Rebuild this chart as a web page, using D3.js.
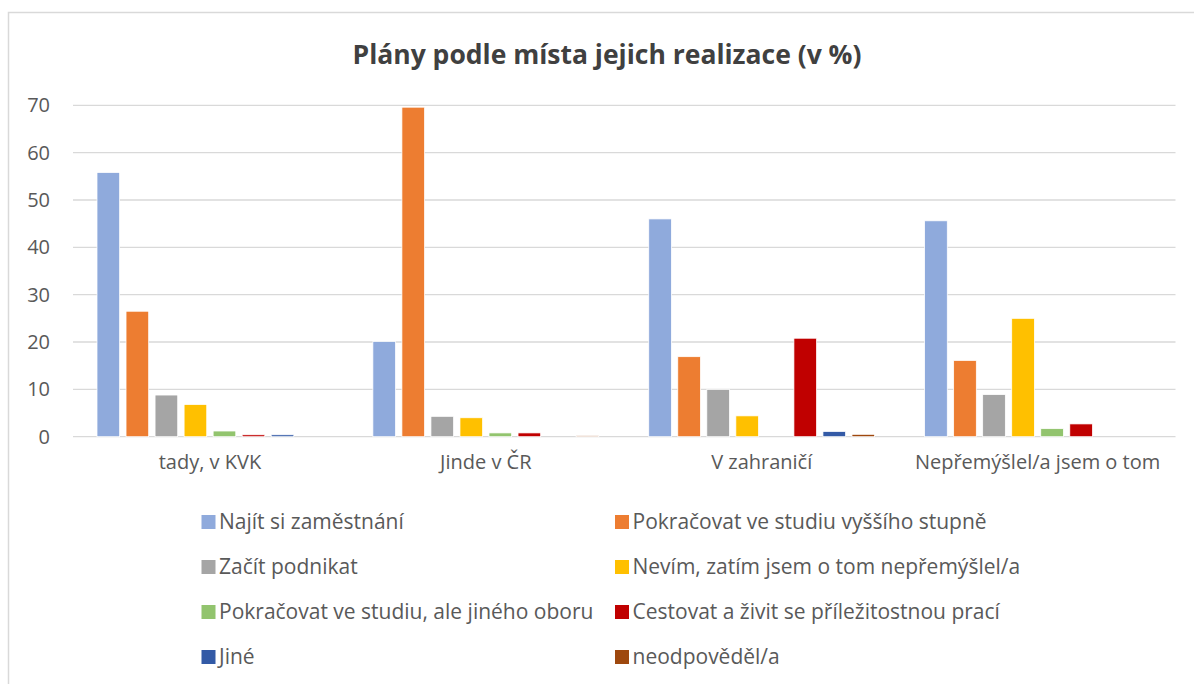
<!DOCTYPE html>
<html>
<head>
<meta charset="utf-8">
<script src="https://cdn.jsdelivr.net/npm/d3@7"></script>
<style>
  body { margin: 0; background: #fff; }
  text { font-family: "Open Sans", sans-serif; }
</style>
</head>
<body>
<div id="chart"></div>
<script>
// categories (places) and series (plans)
var places = ["tady, v KVK", "Jinde v ČR", "V zahraničí", "Nepřemýšlel/a jsem o tom"];
var plans = ["Najít si zaměstnání", "Pokračovat ve studiu vyššího stupně", "Začít podnikat",
  "Nevím, zatím jsem o tom nepřemýšlel/a", "Pokračovat ve studiu, ale jiného oboru",
  "Cestovat a živit se příležitostnou prací", "Jiné", "neodpověděl/a"];
var colors = ["#8FAADC", "#ED7D31", "#A5A5A5", "#FFC000", "#92C46E", "#C00000", "#335AA6", "#9E480E"];

// values in %, one array per series, in order of places
var zamestnani = [55.8, 20.1, 46.0, 45.6];
var vyssiStudium = [26.5, 69.6, 16.9, 16.1];
var podnikat = [8.8, 4.3, 10.0, 8.9];
var nevim = [6.8, 4.0, 4.4, 25.0];
var jinyObor = [1.2, 0.8, 0, 1.7];
var cestovat = [0.4, 0.8, 20.8, 2.7];
var jine = [0.4, 0, 1.1, 0];
var neodpovedel = [0, 0.2, 0.5, 0];
var seriesValues = [zamestnani, vyssiStudium, podnikat, nevim, jinyObor, cestovat, jine, neodpovedel];

var yTicks = [0, 10, 20, 30, 40, 50, 60, 70];

var W = 1194, H = 684;
var font = "'Open Sans', sans-serif";

var svg = d3.select("#chart").append("svg")
  .attr("width", W).attr("height", H);

// chart frame (only top and left edges visible in the crop)
svg.append("path")
  .attr("d", "M8.5," + (H + 5) + "V12.5H" + (W + 5))
  .attr("fill", "none").attr("stroke", "#D9D9D9").attr("stroke-width", 1.5);

svg.append("text")
  .attr("x", 607).attr("y", 64)
  .attr("text-anchor", "middle")
  .style("font-size", "26.5px").style("font-weight", "bold").style("fill", "#404040")
  .text("Plány podle místa jejich realizace (v %)");

var x0 = d3.scaleBand().domain(places).range([72, 1175.5]).padding(0);
var x1 = d3.scaleBand().domain(plans).range([25, x0.bandwidth() - 25]).paddingInner(0.22);
var y = d3.scaleLinear().domain([0, 70]).range([436.7, 105.3]);

// gridlines
svg.append("g").selectAll("line").data(yTicks).enter().append("line")
  .attr("x1", 73).attr("x2", 1175.5)
  .attr("y1", function(d) { return y(d); }).attr("y2", function(d) { return y(d); })
  .attr("stroke", "#D9D9D9").attr("stroke-width", 1.3);

// y axis labels
var yAxis = svg.append("g").attr("transform", "translate(50,0)")
  .call(d3.axisLeft(y).tickValues(yTicks).tickSize(0).tickPadding(0));
yAxis.select(".domain").remove();
yAxis.selectAll("text").style("font-size", "20px").style("fill", "#595959")
  .style("font-family", font);

// x axis labels
var xAxis = svg.append("g").attr("transform", "translate(0,437)")
  .call(d3.axisBottom(x0).tickSize(0).tickPadding(18));
xAxis.select(".domain").remove();
xAxis.selectAll("text").style("font-size", "20px").style("fill", "#595959")
  .style("font-family", font);

// bars
var groups = svg.append("g").selectAll("g").data(places).enter().append("g")
  .attr("transform", function(d) { return "translate(" + x0(d) + ",0)"; });

groups.selectAll("rect")
  .data(function(p, i) { return plans.map(function(s, j) { return {s: s, j: j, v: seriesValues[j][i]}; }); })
  .enter().append("rect")
  .filter(function(d) { return d.v > 0; })
  .attr("x", function(d) { return x1(d.s); })
  .attr("width", x1.bandwidth())
  .attr("y", function(d) { return y(d.v); })
  .attr("height", function(d) { return y(0) - y(d.v); })
  .attr("fill", function(d) { return colors[d.j]; })
  .attr("stroke", "#fff").attr("stroke-width", 0.75);

// legend: 2 columns, 4 rows
var legend = svg.append("g").selectAll("g").data(plans).enter().append("g")
  .attr("transform", function(d, i) {
    return "translate(" + (i % 2 === 0 ? 201.5 : 615) + "," + (522 + Math.floor(i / 2) * 45) + ")";
  });
legend.append("rect").attr("x", 0).attr("y", -7).attr("width", 14).attr("height", 14)
  .attr("fill", function(d, i) { return colors[i]; });
legend.append("text").attr("x", 17.5).attr("dy", "0.35em")
  .style("font-size", "21px").style("fill", "#595959")
  .text(function(d) { return d; });
</script>
</body>
</html>
